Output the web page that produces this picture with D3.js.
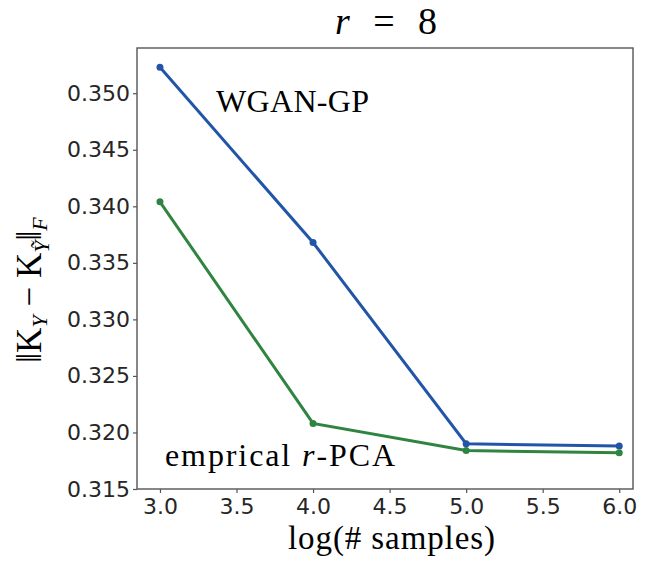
<!DOCTYPE html>
<html>
<head>
<meta charset="utf-8">
<script src="https://cdn.jsdelivr.net/npm/d3@7"></script>
<style>
  body { margin: 0; background: #fff; }
  .serif { font-family: 'Liberation Serif', 'Times New Roman', serif; fill: #000; }
  .tick text { font-family: 'DejaVu Sans', sans-serif; font-size: 22px; fill: #262626; }
</style>
</head>
<body>
<div id="chart"></div>
<script>
// data
const logSamples = [3, 4, 5, 6];
const wganGP = [0.3523, 0.3368, 0.3190, 0.3188];
const empricalPCA = [0.3404, 0.3208, 0.3184, 0.3182];
const xTicks = [3.0, 3.5, 4.0, 4.5, 5.0, 5.5, 6.0];
const yTicks = [0.315, 0.320, 0.325, 0.330, 0.335, 0.340, 0.345, 0.350];

const width = 653, height = 561;
const margin = {top: 48, right: 20, bottom: 72, left: 137};

let svg = d3.select('#chart')
  .append('svg')
    .attr('width', width)
    .attr('height', height);

let xScale = d3.scaleLinear()
  .domain([2.85, 6.09])
  .range([margin.left, width - margin.right]);

let yScale = d3.scaleLinear()
  .domain([0.315, 0.354])
  .range([height - margin.bottom, margin.top]);

// axes
let xAxis = svg.append('g')
  .attr('transform', `translate(0,${height - margin.bottom})`)
  .call(d3.axisBottom(xScale).tickValues(xTicks).tickFormat(d3.format('.1f')).tickSize(4).tickPadding(5));

let yAxis = svg.append('g')
  .attr('transform', `translate(${margin.left},0)`)
  .call(d3.axisLeft(yScale).tickValues(yTicks).tickFormat(d3.format('.3f')).tickSize(4).tickPadding(3));

[xAxis, yAxis].forEach(function(ax) {
  ax.select('.domain').remove();
  ax.selectAll('.tick line').attr('stroke', '#555').attr('stroke-width', 1.2);
});

// frame
svg.append('rect')
  .attr('x', margin.left)
  .attr('y', margin.top)
  .attr('width', width - margin.left - margin.right)
  .attr('height', height - margin.top - margin.bottom)
  .attr('fill', 'none')
  .attr('stroke', '#555')
  .attr('stroke-width', 1.4);

// lines
let series = [
  {name: 'WGAN-GP', values: wganGP, colour: '#2255a8'},
  {name: 'emprical r-PCA', values: empricalPCA, colour: '#2f8540'}
];

let lineGen = d3.line()
  .x(function(d) { return xScale(d[0]) })
  .y(function(d) { return yScale(d[1]) });

series.forEach(function(s) {
  let pts = logSamples.map(function(x, i) { return [x, s.values[i]] });

  svg.append('path')
    .datum(pts)
    .attr('d', lineGen)
    .attr('fill', 'none')
    .attr('stroke', s.colour)
    .attr('stroke-width', 3);

  svg.selectAll(null)
    .data(pts)
    .enter()
    .append('circle')
    .attr('cx', function(d) { return xScale(d[0]) })
    .attr('cy', function(d) { return yScale(d[1]) })
    .attr('r', 3.5)
    .attr('fill', s.colour);
});

// title
let title = svg.append('text')
  .attr('class', 'serif')
  .attr('x', 335)
  .attr('y', 34)
  .attr('textLength', 102)
  .attr('lengthAdjust', 'spacing')
  .style('font-size', '38px');
title.append('tspan').style('font-style', 'italic').text('r');
title.append('tspan').text(' = 8');

// annotations
svg.append('text')
  .attr('class', 'serif')
  .attr('x', 216)
  .attr('y', 112)
  .attr('textLength', 153)
  .attr('lengthAdjust', 'spacing')
  .style('font-size', '32px')
  .text('WGAN-GP');

let ann = svg.append('text')
  .attr('class', 'serif')
  .attr('x', 165)
  .attr('y', 466)
  .attr('textLength', 230)
  .attr('lengthAdjust', 'spacing')
  .style('font-size', '32px');
ann.append('tspan').text('emprical ');
ann.append('tspan').style('font-style', 'italic').text('r');
ann.append('tspan').text('-PCA');

// axis labels
svg.append('text')
  .attr('class', 'serif')
  .attr('x', 288)
  .attr('y', 549)
  .attr('textLength', 207)
  .attr('lengthAdjust', 'spacing')
  .style('font-size', '33px')
  .text('log(# samples)');

let yLabel = svg.append('text')
  .attr('class', 'serif')
  .attr('transform', 'translate(41,290) rotate(-90)')
  .attr('text-anchor', 'middle')
  .style('font-size', '35px');
yLabel.append('tspan').text('‖K');
yLabel.append('tspan').attr('dy', 6).style('font-size', '22px').style('font-style', 'italic').text('Y');
yLabel.append('tspan').attr('dy', -6).text(' − K');
yLabel.append('tspan').attr('dy', 8).style('font-size', '22px').style('font-style', 'italic').text('Ỹ');
yLabel.append('tspan').attr('dy', -8).text('‖');
yLabel.append('tspan').attr('dy', 6).style('font-size', '22px').style('font-style', 'italic').text('F');
</script>
</body>
</html>
